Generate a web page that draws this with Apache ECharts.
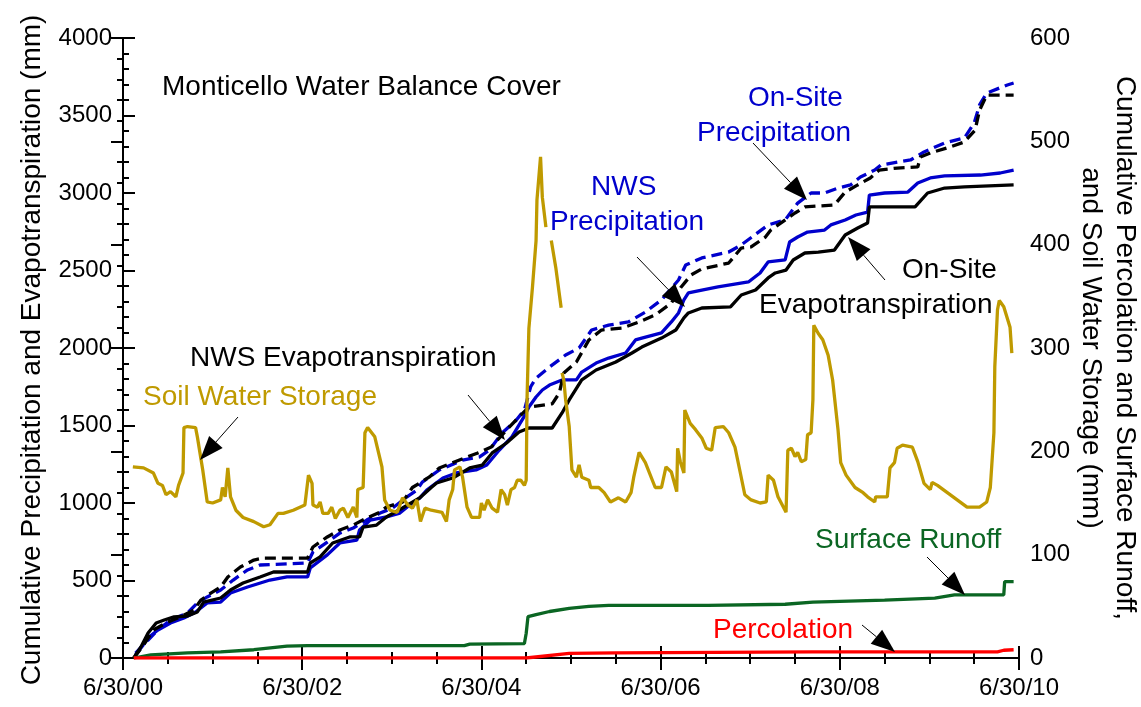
<!DOCTYPE html>
<html>
<head>
<meta charset="utf-8">
<title>Monticello Water Balance Cover</title>
<script src="https://cdn.jsdelivr.net/npm/echarts@6/dist/echarts.min.js"></script>
<style>
  html, body { margin: 0; padding: 0; background: #fff; }
  #chart { width: 1141px; height: 707px; }
</style>
</head>
<body>
<div id="chart"></div>
<script>
// x = years since 6/30/00, left axis in mm, right axis in mm
const xTickLabels = ['6/30/00', '6/30/02', '6/30/04', '6/30/06', '6/30/08', '6/30/10']

const onSitePrecip = [[0.14, 32], [0.28, 116], [0.39, 181], [0.53, 245], [0.72, 290], [0.83, 355], [0.94, 394], [1.09, 439], [1.23, 503], [1.39, 568], [1.53, 600], [2.06, 613], [2.12, 684], [2.28, 748], [2.42, 806], [2.57, 839], [2.72, 890], [2.87, 935], [3.01, 968], [3.17, 1039], [3.28, 1084], [3.34, 1135], [3.53, 1213], [3.79, 1277], [3.98, 1297], [4.09, 1342], [4.23, 1452], [4.39, 1535], [4.48, 1600], [4.55, 1750], [4.61, 1806], [4.76, 1877], [4.94, 1955], [5.09, 2000], [5.23, 2116], [5.42, 2148], [5.64, 2168], [5.83, 2232], [6.01, 2310], [6.20, 2439], [6.28, 2535], [6.46, 2581], [6.76, 2619], [6.90, 2665], [7.20, 2794], [7.39, 2826], [7.53, 2935], [7.68, 3000], [7.83, 3000], [7.98, 3032], [8.12, 3052], [8.23, 3103], [8.39, 3148], [8.46, 3181], [8.79, 3213], [8.94, 3265], [9.17, 3323], [9.39, 3355], [9.50, 3452], [9.56, 3568], [9.64, 3645], [9.87, 3697], [9.94, 3710]]

const nwsPrecip = [[0.14, 19], [0.29, 135], [0.39, 181], [0.53, 226], [0.68, 258], [0.81, 297], [0.94, 355], [1.09, 361], [1.20, 419], [1.39, 458], [1.64, 503], [1.83, 523], [2.06, 523], [2.09, 581], [2.28, 665], [2.42, 742], [2.61, 761], [2.64, 826], [2.76, 890], [2.94, 910], [3.09, 935], [3.20, 987], [3.31, 1032], [3.39, 1084], [3.57, 1161], [3.72, 1194], [3.94, 1213], [4.06, 1245], [4.20, 1342], [4.34, 1426], [4.48, 1560], [4.53, 1619], [4.61, 1684], [4.68, 1729], [4.76, 1761], [4.90, 1794], [5.06, 1794], [5.12, 1845], [5.28, 1903], [5.42, 1935], [5.61, 1968], [5.72, 2052], [5.79, 2064], [6.01, 2097], [6.12, 2168], [6.20, 2226], [6.26, 2310], [6.31, 2355], [6.46, 2374], [6.64, 2394], [6.98, 2426], [7.11, 2484], [7.20, 2555], [7.39, 2568], [7.44, 2684], [7.53, 2716], [7.64, 2748], [7.83, 2761], [7.90, 2794], [8.06, 2826], [8.18, 2858], [8.31, 2877], [8.33, 2987], [8.50, 3000], [8.76, 3006], [8.87, 3065], [9.01, 3097], [9.17, 3110], [9.57, 3116], [9.79, 3129], [9.94, 3148]]

const onSiteET = [[0.12, 0], [0.20, 71], [0.28, 161], [0.37, 226], [0.46, 245], [0.57, 265], [0.72, 271], [0.83, 297], [0.90, 361], [1.09, 387], [1.20, 439], [1.34, 484], [1.53, 523], [1.68, 555], [2.06, 555], [2.09, 613], [2.20, 652], [2.34, 742], [2.53, 781], [2.64, 781], [2.68, 845], [2.83, 858], [2.94, 910], [3.12, 968], [3.31, 1032], [3.44, 1100], [3.50, 1129], [3.68, 1161], [3.87, 1226], [4.01, 1245], [4.12, 1323], [4.28, 1387], [4.42, 1458], [4.53, 1484], [4.79, 1484], [4.90, 1581], [4.98, 1665], [5.12, 1794], [5.28, 1858], [5.50, 1910], [5.68, 1968], [5.79, 2006], [6.01, 2064], [6.17, 2116], [6.26, 2194], [6.31, 2226], [6.46, 2258], [6.78, 2265], [6.90, 2342], [7.06, 2374], [7.20, 2452], [7.28, 2484], [7.40, 2503], [7.48, 2568], [7.61, 2613], [7.76, 2619], [7.94, 2632], [8.06, 2729], [8.20, 2774], [8.31, 2806], [8.33, 2910], [8.84, 2910], [8.98, 3000], [9.17, 3032], [9.39, 3039], [9.94, 3052]]

const nwsET = [[0.12, 0], [0.23, 84], [0.34, 181], [0.50, 232], [0.64, 265], [0.79, 310], [0.87, 374], [0.98, 419], [1.09, 458], [1.17, 523], [1.31, 587], [1.46, 632], [1.57, 645], [2.06, 645], [2.12, 716], [2.28, 781], [2.42, 826], [2.57, 858], [2.72, 903], [2.87, 942], [2.94, 974], [3.12, 1006], [3.23, 1100], [3.42, 1168], [3.53, 1226], [3.67, 1258], [3.81, 1290], [3.96, 1323], [4.11, 1361], [4.28, 1471], [4.42, 1555], [4.53, 1619], [4.79, 1640], [4.87, 1710], [4.92, 1839], [5.06, 1910], [5.20, 2052], [5.34, 2116], [5.57, 2129], [5.76, 2168], [5.94, 2213], [6.12, 2290], [6.23, 2394], [6.34, 2471], [6.46, 2510], [6.76, 2548], [6.90, 2645], [7.01, 2652], [7.17, 2716], [7.23, 2761], [7.34, 2806], [7.50, 2871], [7.61, 2910], [7.94, 2923], [8.06, 3006], [8.20, 3052], [8.34, 3097], [8.44, 3148], [8.64, 3161], [8.87, 3168], [8.90, 3232], [9.01, 3258], [9.23, 3297], [9.39, 3329], [9.51, 3406], [9.56, 3535], [9.64, 3632], [9.94, 3632]]

const soilWater = [[0.11, 185], [0.23, 184], [0.34, 179], [0.39, 169], [0.44, 167], [0.48, 158], [0.53, 161], [0.59, 156], [0.62, 167], [0.67, 179], [0.68, 223], [0.72, 224], [0.81, 223], [0.83, 214], [0.89, 182], [0.94, 151], [1.00, 150], [1.09, 153], [1.11, 165], [1.14, 156], [1.17, 184], [1.20, 156], [1.26, 143], [1.34, 136], [1.46, 132], [1.57, 127], [1.64, 129], [1.73, 140], [1.79, 140], [1.90, 143], [2.03, 148], [2.07, 177], [2.11, 169], [2.12, 148], [2.17, 146], [2.20, 151], [2.23, 140], [2.29, 140], [2.33, 146], [2.37, 135], [2.42, 143], [2.46, 145], [2.51, 136], [2.57, 146], [2.61, 136], [2.62, 163], [2.68, 165], [2.70, 218], [2.73, 223], [2.81, 214], [2.89, 185], [2.92, 153], [2.98, 143], [3.06, 141], [3.12, 155], [3.18, 148], [3.23, 145], [3.28, 153], [3.32, 132], [3.37, 145], [3.44, 143], [3.56, 141], [3.61, 132], [3.64, 153], [3.68, 163], [3.70, 182], [3.76, 185], [3.79, 175], [3.84, 146], [3.89, 136], [3.98, 136], [4.00, 150], [4.03, 143], [4.07, 153], [4.12, 145], [4.18, 141], [4.22, 163], [4.26, 158], [4.29, 148], [4.33, 163], [4.37, 165], [4.40, 172], [4.44, 172], [4.48, 167], [4.50, 172], [4.51, 253], [4.53, 319], [4.57, 359], [4.61, 404], [4.62, 443], [4.66, 485], [4.68, 446], [4.72, 417], [4.75, '-'], [4.78, 404], [4.83, 378], [4.89, 339], [4.895, '-'], [4.90, 276], [4.92, 269], [4.94, 250], [4.98, 224], [5.01, 182], [5.06, 175], [5.09, 187], [5.12, 175], [5.20, 172], [5.22, 165], [5.31, 165], [5.37, 160], [5.44, 151], [5.53, 155], [5.61, 151], [5.67, 160], [5.70, 175], [5.76, 199], [5.83, 189], [5.94, 165], [6.01, 165], [6.06, 185], [6.12, 180], [6.18, 161], [6.19, 203], [6.22, 190], [6.26, 179], [6.27, 240], [6.33, 227], [6.39, 221], [6.46, 213], [6.51, 203], [6.57, 201], [6.61, 223], [6.70, 224], [6.76, 218], [6.83, 204], [6.89, 179], [6.94, 158], [7.01, 153], [7.11, 150], [7.18, 151], [7.20, 177], [7.26, 172], [7.31, 156], [7.40, 141], [7.42, 201], [7.46, 203], [7.50, 195], [7.53, 199], [7.57, 190], [7.62, 192], [7.64, 216], [7.68, 218], [7.70, 250], [7.71, 322], [7.76, 314], [7.81, 308], [7.87, 293], [7.92, 269], [7.98, 221], [8.01, 189], [8.07, 177], [8.17, 165], [8.26, 160], [8.31, 156], [8.39, 151], [8.40, 156], [8.53, 156], [8.56, 184], [8.61, 189], [8.64, 203], [8.70, 206], [8.81, 204], [8.87, 190], [8.94, 169], [9.01, 163], [9.03, 170], [9.09, 167], [9.20, 160], [9.31, 153], [9.42, 146], [9.56, 146], [9.64, 151], [9.68, 165], [9.72, 218], [9.73, 282], [9.76, 337], [9.78, 346], [9.83, 340], [9.90, 320], [9.92, 295]]

const surfaceRunoff = [[0.12, 0], [0.31, 3], [0.72, 5], [1.09, 6], [1.46, 8], [1.83, 11.5], [2.06, 12], [3.81, 12], [3.87, 13.5], [4.48, 14], [4.50, 24], [4.52, 40], [4.61, 42], [4.76, 45], [4.98, 48], [5.20, 50], [5.42, 51], [6.53, 51], [7.39, 52], [7.70, 54], [8.50, 56], [9.06, 58], [9.28, 61], [9.83, 61], [9.84, 74], [9.94, 74]]

const percolation = [[0.12, 0], [4.50, 0], [4.98, 4.5], [5.50, 5], [7.70, 6], [9.76, 6], [9.83, 7.5], [9.94, 8]]

const FONT = 'Arial, "Liberation Sans", sans-serif'
const BLUE = '#0000CC'
const GOLD = '#BF9A00'
const GREEN = '#0B6623'
const RED = '#FF0000'

function arrow(x1, y1, x2, y2) {
  const a = Math.atan2(y2 - y1, x2 - x1)
  const len = 24
  const half = 9
  const bx = x2 - len * Math.cos(a)
  const by = y2 - len * Math.sin(a)
  const nx = -Math.sin(a) * half
  const ny = Math.cos(a) * half
  return [
    { type: 'line', z: 100, shape: { x1: x1, y1: y1, x2: bx, y2: by }, style: { stroke: '#000', lineWidth: 1 } },
    { type: 'polygon', z: 100, shape: { points: [[x2, y2], [bx + nx, by + ny], [bx - nx, by - ny]] }, style: { fill: '#000' } }
  ]
}

function label(text, x, y, color) {
  return {
    type: 'text', z: 100, x: x, y: y,
    style: { text: text, fill: color, fontSize: 28, fontFamily: FONT, align: 'left', verticalAlign: 'middle' }
  }
}

const tickStyle = { color: '#000', width: 2 }

function xAxisBase(position, showLabel) {
  return {
    type: 'value', position: position, min: 0, max: 10, interval: 2,
    axisLine: { show: true, lineStyle: tickStyle },
    axisTick: { show: true, inside: true, length: 12, lineStyle: tickStyle },
    minorTick: { show: true, splitNumber: 4, length: 6, lineStyle: tickStyle },
    splitLine: { show: false },
    axisLabel: {
      show: showLabel, fontSize: 24, color: '#000', fontFamily: FONT, margin: 18,
      formatter: v => xTickLabels[Math.round(v / 2)]
    }
  }
}

function yAxisBase(position, max, interval) {
  return {
    type: 'value', position: position, min: 0, max: max, interval: interval,
    axisLine: { show: true, lineStyle: tickStyle },
    axisTick: { show: true, inside: true, length: 12, lineStyle: tickStyle },
    minorTick: { show: true, splitNumber: 5, length: 6, lineStyle: tickStyle },
    splitLine: { show: false },
    axisLabel: { fontSize: 24, color: '#000', fontFamily: FONT, margin: 11, formatter: v => String(v) }
  }
}

function lineSeries(name, data, color, yIndex, dashed, z) {
  return {
    name: name, type: 'line', data: data, xAxisIndex: 0, yAxisIndex: yIndex,
    symbol: 'none', z: z,
    lineStyle: { color: color, width: 3.3, type: dashed ? [11, 6] : 'solid' }
  }
}

const chart = echarts.init(document.getElementById('chart'))

const option = {
  animation: false,
  backgroundColor: '#fff',
  grid: { left: 123, right: 122, top: 38, bottom: 49, outerBoundsMode: 'none', containLabel: false },
  xAxis: [xAxisBase('bottom', true), xAxisBase('top', false)],
  yAxis: [yAxisBase('left', 4000, 500), yAxisBase('right', 600, 100)],
  series: [
    lineSeries('On-Site Precipitation', onSitePrecip, BLUE, 0, true, 2),
    lineSeries('NWS Evapotranspiration', nwsET, '#000', 0, true, 3),
    lineSeries('NWS Precipitation', nwsPrecip, BLUE, 0, false, 2),
    lineSeries('On-Site Evapotranspiration', onSiteET, '#000', 0, false, 3),
    lineSeries('Surface Runoff', surfaceRunoff, GREEN, 1, false, 4),
    lineSeries('Percolation', percolation, RED, 1, false, 4),
    lineSeries('Soil Water Storage', soilWater, GOLD, 1, false, 5)
  ],
  graphic: [
    {
      type: 'text', x: 32, y: 350, rotation: Math.PI / 2,
      style: { text: 'Cumulative Precipitation and Evapotranspiration (mm)', fill: '#000', fontSize: 28, fontFamily: FONT, align: 'center', verticalAlign: 'middle' }
    },
    {
      type: 'text', x: 1108, y: 348, rotation: -Math.PI / 2,
      style: { text: 'Cumulative Percolation and Surface Runoff,\nand Soil Water Storage (mm)', fill: '#000', fontSize: 28, lineHeight: 34, fontFamily: FONT, align: 'center', verticalAlign: 'middle' }
    },
    label('Monticello Water Balance Cover', 162, 87, '#000'),
    label('On-Site', 748, 98, BLUE),
    label('Precipitation', 697, 133, BLUE),
    label('NWS', 591, 187, BLUE),
    label('Precipitation', 550, 222, BLUE),
    label('On-Site', 902, 270, '#000'),
    label('Evapotranspiration', 759, 305, '#000'),
    label('NWS Evapotranspiration', 190, 358, '#000'),
    label('Soil Water Storage', 143, 397, GOLD),
    label('Surface Runoff', 815, 540, GREEN),
    label('Percolation', 713, 630, RED),
    ...arrow(238, 417, 200, 460),
    ...arrow(468, 395, 505, 440),
    ...arrow(637, 257, 685, 307),
    ...arrow(753, 143, 807, 200),
    ...arrow(885, 280, 848, 237),
    ...arrow(927, 557, 965, 595),
    ...arrow(862, 625, 895, 652)
  ]
}
chart.setOption(option)
</script>
</body>
</html>
